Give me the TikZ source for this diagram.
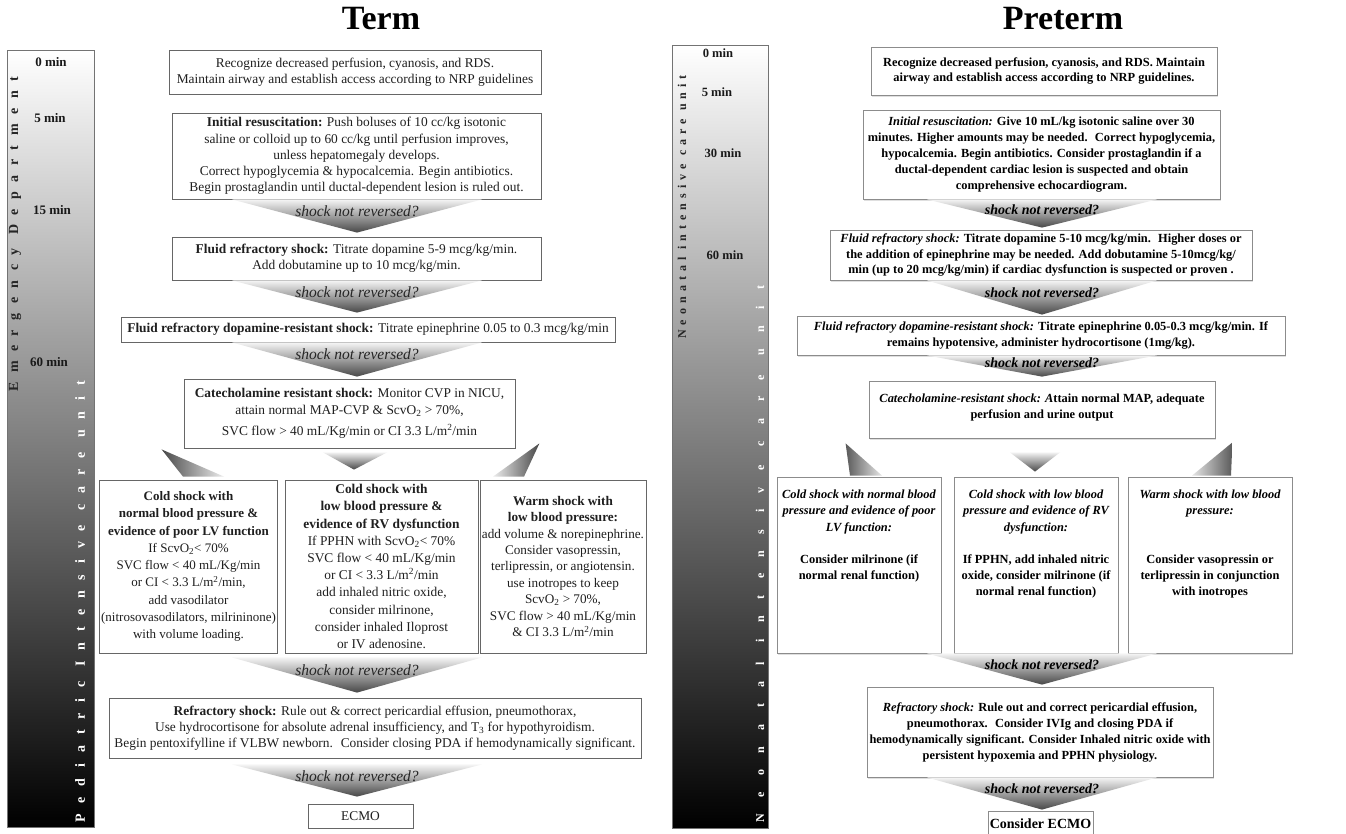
\documentclass[tikz,border=0pt]{standalone}
\usepackage{fontspec}
\setmainfont{Liberation Serif}
\newfontfamily\lsEA[LetterSpace=68]{Liberation Serif}
\newfontfamily\lsEB[LetterSpace=78]{Liberation Serif}
\newfontfamily\lsNA[LetterSpace=42]{Liberation Serif}
\newfontfamily\lsNB[LetterSpace=137]{Liberation Serif}
\usetikzlibrary{calc,shadows}
\newcommand\mytf{\fontsize{13.4}{16}\selectfont}
\newcommand\mypf{\fontsize{12.4}{15.5}\selectfont\bfseries}
\newcommand\shockarr[7]{%
  \coordinate (sa-top) at ($(#1.south -| #3)+(0,#5)$);
  \coordinate (sa-apex) at ($(#2.north -| #3)+(0,#6)$);
  \shade[arrshade] ($(sa-top)+(-#4,0)$) -- ($(sa-top)+(#4,0)$) -- (sa-apex) -- cycle;
  \node[#7] at ($(sa-top)!0.36!(sa-apex)$) {shock not reversed?};}
\tikzset{
  bar/.style={draw=black!55, line width=0.8pt, top color=white, bottom color=black, inner sep=0pt},
  vtxt/.style={rotate=90, anchor=west, inner sep=0pt},
  tlab/.style={font=\fontsize{13}{15}\selectfont\bfseries, text=black!90, inner sep=0pt},
  plab/.style={font=\fontsize{12.6}{15}\selectfont\bfseries, text=black!90, inner sep=0pt},
  title/.style={font=\fontsize{34}{40}\selectfont\bfseries, inner sep=0pt},
  tbox/.style={draw=black!60, line width=0.8pt, fill=white, inner sep=2pt, align=center, font=\mytf, text=black!88},
  pbox/.style={draw=black!45, line width=0.8pt, fill=white, inner sep=2pt, align=center, font=\mypf,
    drop shadow={opacity=0.25, shadow xshift=1pt, shadow yshift=-2pt}},
  arrshade/.style={top color=gray!8, bottom color=black!72},
  tshock/.style={font=\fontsize{15.5}{17}\selectfont\itshape, text=black!85, inner sep=0pt},
  pshock/.style={font=\fontsize{14}{16}\selectfont\bfseries\itshape, text=black, inner sep=0pt},
}
\begin{document}
\begin{tikzpicture}[x=1pt,y=-1pt]
\useasboundingbox (0,0) rectangle (1346,833);
\fill[white] (0,0) rectangle (1346,833);

% ---------- time bars ----------
\node[bar, minimum width=87, minimum height=777] (barL) at (50.5,438.5) {};
\node[bar, minimum width=96, minimum height=783] (barR) at (720,436.5) {};

\node[vtxt, text=black!85] (edtxt) at (15,392) {\lsEA\bfseries\fontsize{14}{16}\selectfont Emergency Department};
\node[vtxt, text=white] (pictxt) at (80,823) {\lsEB\bfseries\fontsize{14}{16}\selectfont Pediatric Intensive care unit};
\node[vtxt, text=black!85] (nicuA) at (682,339) {\lsNA\bfseries\fontsize{12}{14}\selectfont Neonatal intensive care unit};
\node[vtxt, text=white] (nicuB) at (760,823) {\lsNB\bfseries\fontsize{12}{14}\selectfont Neonatal intensive care unit};

\node[tlab] (tl0) at (51,62) {0 min};
\node[tlab] (tl5) at (50,118) {5 min};
\node[tlab] (tl15) at (52,210) {15 min};
\node[tlab] (tl60) at (49,362) {60 min};
\node[plab] (pl0) at (718,53) {0 min};
\node[plab] (pl5) at (717,92) {5 min};
\node[plab] (pl30) at (723,153) {30 min};
\node[plab] (pl60) at (725,255) {60 min};

% ---------- titles ----------
\node[title] (termT) at (381,19) {Term};
\node[title] (pretT) at (1063,19) {Preterm};

% ---------- Term boxes ----------
\node[tbox, font=\fontsize{13.4}{15.6}\selectfont, minimum width=372, minimum height=44] (t1) at (355,72)
  {Recognize decreased perfusion, cyanosis, and RDS.\\ Maintain airway and establish access according to NRP guidelines};
\node[tbox, font=\fontsize{13.4}{16.2}\selectfont, minimum width=369, minimum height=86] (t2) at (356.5,156)
  {\textbf{Initial resuscitation:} Push boluses of 10 cc/kg isotonic\\ saline or colloid up to 60 cc/kg until perfusion improves,\\ unless hepatomegaly develops.\\ Correct hypoglycemia \& hypocalcemia. Begin antibiotics.\\ Begin prostaglandin until ductal-dependent lesion is ruled out.};
\node[tbox, minimum width=369, minimum height=43] (t3) at (356.5,258.5)
  {\textbf{Fluid refractory shock:} Titrate dopamine 5-9 mcg/kg/min.\\ Add dobutamine up to 10 mcg/kg/min.};
\node[tbox, minimum width=494, minimum height=25] (t4) at (368,329.5)
  {\textbf{Fluid refractory dopamine-resistant shock:} Titrate epinephrine 0.05 to 0.3 mcg/kg/min};
\node[tbox, font=\fontsize{13.4}{17}\selectfont, minimum width=331, minimum height=69] (t5) at (349.5,413.5)
  {\textbf{Catecholamine resistant shock:} Monitor CVP in NICU,\\ attain normal MAP-CVP \& ScvO\textsubscript{2} > 70\%,\\[4pt] SVC flow > 40 mL/Kg/min or CI 3.3 L/m\textsuperscript{2}/min};
\node[tbox, font=\fontsize{13}{17.3}\selectfont, minimum width=177, minimum height=173] (t6) at (188.5,566.5)
  {\textbf{Cold shock with}\\ \textbf{normal blood pressure \&}\\ \textbf{evidence of poor LV function}\\ If ScvO\textsubscript{2}< 70\%\\ SVC flow < 40 mL/Kg/min\\ or CI < 3.3 L/m\textsuperscript{2}/min,\\ add vasodilator\\ (nitrosovasodilators, milrininone)\\ with volume loading.};
\node[tbox, font=\fontsize{13.4}{17.2}\selectfont, minimum width=193, minimum height=173] (t7) at (381.5,566.5)
  {\textbf{Cold shock with}\\ \textbf{low blood pressure \&}\\ \textbf{evidence of RV dysfunction}\\ If PPHN with ScvO\textsubscript{2}< 70\%\\ SVC flow < 40 mL/Kg/min\\ or CI < 3.3 L/m\textsuperscript{2}/min\\ add inhaled nitric oxide,\\ consider milrinone,\\ consider inhaled Iloprost\\ or IV adenosine.};
\node[tbox, font=\fontsize{13.2}{16.4}\selectfont, minimum width=160, minimum height=173] (t8) at (563,566.5)
  {\textbf{Warm shock with}\\ \textbf{low blood pressure:}\\ add volume \& norepinephrine.\\ Consider vasopressin,\\ terlipressin, or angiotensin.\\ use inotropes to keep\\ ScvO\textsubscript{2} > 70\%,\\ SVC flow > 40 mL/Kg/min\\ \& CI 3.3 L/m\textsuperscript{2}/min};
\node[tbox, minimum width=532, minimum height=60] (t9) at (375,728)
  {\textbf{Refractory shock:} Rule out \& correct pericardial effusion, pneumothorax,\\ Use hydrocortisone for absolute adrenal insufficiency, and T\textsubscript{3} for hypothyroidism.\\ Begin pentoxifylline if VLBW newborn.~ Consider closing PDA if hemodynamically significant.};
\node[tbox, minimum width=105, minimum height=24] (t10) at (360.5,816) {ECMO};

% ---------- Preterm boxes ----------
\node[pbox, minimum width=346, minimum height=48] (p1) at (1044,71)
  {Recognize decreased perfusion, cyanosis, and RDS. Maintain\\ airway and establish access according to NRP guidelines.};
\node[pbox, font=\fontsize{12.4}{16}\selectfont\bfseries, minimum width=357, minimum height=89] (p2) at (1041.5,154.5)
  {\textit{Initial resuscitation:} Give 10 mL/kg isotonic saline over 30\\ minutes. Higher amounts may be needed.~ Correct hypoglycemia,\\ hypocalcemia. Begin antibiotics. Consider prostaglandin if a\\ ductal-dependent cardiac lesion is suspected and obtain\\ comprehensive echocardiogram.};
\node[pbox, minimum width=422, minimum height=50] (p3) at (1041,255)
  {\textit{Fluid refractory shock:} Titrate dopamine 5-10 mcg/kg/min.~ Higher doses or\\ the addition of epinephrine may be needed. Add dobutamine 5-10mcg/kg/\\ min (up to 20 mcg/kg/min) if cardiac dysfunction is suspected or proven .};
\node[pbox, font=\fontsize{12.4}{16.5}\selectfont\bfseries, minimum width=488, minimum height=39] (p4) at (1041,335.5)
  {\textit{Fluid refractory dopamine-resistant shock:} Titrate epinephrine 0.05-0.3 mcg/kg/min. If\\ remains hypotensive, administer hydrocortisone (1mg/kg).};
\node[pbox, minimum width=346, minimum height=57] (p5) at (1042,409.5)
  {\parbox[c][51pt][t]{340pt}{\vspace*{10pt}\centering\textit{Catecholamine-resistant shock: A}ttain normal MAP, adequate\\ perfusion and urine output}};
\node[pbox, font=\fontsize{12.4}{16.2}\selectfont\bfseries, minimum width=164, minimum height=176] (p6) at (859,565)
  {\parbox[c][170pt][t]{160pt}{\vspace*{10pt}\centering\textit{Cold shock with normal blood\\ pressure and evidence of poor\\ LV function:}\\[16pt] Consider milrinone (if\\ normal renal function)}};
\node[pbox, font=\fontsize{12.4}{16.2}\selectfont\bfseries, minimum width=164, minimum height=176] (p7) at (1036,565)
  {\parbox[c][170pt][t]{160pt}{\vspace*{10pt}\centering\textit{Cold shock with low blood\\ pressure and evidence of RV\\ dysfunction:}\\[16pt] If PPHN, add inhaled nitric\\ oxide, consider milrinone (if\\ normal renal function)}};
\node[pbox, font=\fontsize{12.4}{16.2}\selectfont\bfseries, minimum width=164, minimum height=176] (p8) at (1210,565)
  {\parbox[c][170pt][t]{160pt}{\vspace*{10pt}\centering\textit{Warm shock with low blood\\ pressure:}\\[32pt] Consider vasopressin or\\ terlipressin in conjunction\\ with inotropes}};
\node[pbox, font=\fontsize{12.4}{16}\selectfont\bfseries, minimum width=346, minimum height=90] (p9) at (1040,732)
  {\textit{Refractory shock:} Rule out and correct pericardial effusion,\\ pneumothorax.~ Consider IVIg and closing PDA if\\ hemodynamically significant. Consider Inhaled nitric oxide with\\ persistent hypoxemia and PPHN physiology.};
\node[pbox, font=\fontsize{14}{16}\selectfont\bfseries, inner sep=1pt, minimum width=105, minimum height=26] (p10) at (1040.5,824) {Consider ECMO};

% ---------- shock arrows ----------
\coordinate (tcol) at (357,0);
\coordinate (pcol) at (1042,0);
\shockarr{t2}{t3}{tcol}{125}{0}{-4}{tshock}
\shockarr{t3}{t4}{tcol}{125}{0}{-4}{tshock}
\shockarr{t4}{t5}{tcol}{125}{0}{-2}{tshock}
\shockarr{t7}{t9}{tcol}{125}{4}{-5}{tshock}
\shockarr{t9}{t10}{tcol}{125}{6}{-7}{tshock}
\shockarr{p2}{p3}{pcol}{115}{0}{-2}{pshock}
\shockarr{p3}{p4}{pcol}{115}{0}{-1}{pshock}
\shockarr{p4}{p5}{pcol}{115}{0}{-4}{pshock}
\shockarr{p7}{p9}{pcol}{115}{0}{-2}{pshock}
\shockarr{p9}{p10}{pcol}{115}{0}{-1}{pshock}

% ---------- branch wedges ----------
\shade[left color=black!72, right color=gray!15] ($(t5.south west)+(-22,1)$) -- ($(t6.north)+(-5.5,-3)$) -- ($(t6.north)+(35.5,-3)$) -- cycle;
\shade[top color=gray!10, bottom color=black!72] ($(t5.south)+(-26.5,4)$) -- ($(t5.south)+(37.5,4)$) -- ($(t7.north)+(-27.5,-10)$) -- cycle;
\shade[left color=gray!15, right color=black!72] ($(t5.south east)+(24,-5)$) -- ($(t8.north)+(-70,-3)$) -- ($(t8.north)+(-39,-3)$) -- cycle;
\shade[left color=black!65, right color=gray!20] ($(p5.south west)+(-23,5)$) -- ($(p6.north)+(-9,-1)$) -- ($(p6.north)+(23,-1)$) -- cycle;
\shade[top color=gray!10, bottom color=black!72] ($(p5.south)+(-32,14)$) -- ($(p5.south)+(18,14)$) -- ($(p7.north)+(-1,-5)$) -- cycle;
\shade[left color=gray!20, right color=black!65] ($(p5.south east)+(17,4)$) -- ($(p8.north)+(-18,-1)$) -- ($(p8.north)+(21,-1)$) -- cycle;
\end{tikzpicture}
\end{document}
